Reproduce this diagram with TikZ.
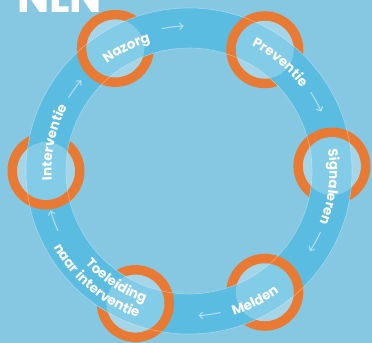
\documentclass[tikz,border=0pt]{standalone}
\usepackage{fontspec}
\setmainfont{Poppins}
\newfontfamily\lblfam{Poppins}[LetterSpace=5]
\newcommand{\lblfont}{\lblfam\bfseries\fontsize{13.5}{13.5}\selectfont}
\usetikzlibrary{decorations.text,arrows.meta}
\definecolor{bg}{RGB}{134,200,225}
\definecolor{band}{RGB}{90,188,225}
\definecolor{ora}{RGB}{233,122,51}
\tikzset{
  bandseg/.style={draw=band, line width=40bp},
  ringst/.style={circle, draw=ora, line width=9.5bp, minimum size=67.5bp, inner sep=0pt},
  disk/.style={fill=white, fill opacity=0.25},
  edgeline/.style={draw=white, draw opacity=0.35, line width=0.6bp},
  flow/.style={draw=white, draw opacity=0.5, line width=1.1bp, -{Straight Barb[length=3.5bp,width=7bp]}},
  lbl/.style={decorate, decoration={text along path, text color=white, text align=center}},
}
\begin{document}
\begin{tikzpicture}[x=1bp,y=1bp]
\clip (0,0) rectangle (372,343);
\useasboundingbox (0,0) rectangle (372,343);
\fill[bg] (0,0) rectangle (372,343);
\node[anchor=base west, inner sep=0pt, text=white, font=\bfseries\fontsize{43}{43}\selectfont] (title) at (17,331) {NLN};
\begin{scope}[shift={(189,172)}]
  % part of segment 6 that lies under Nazorg
  \draw[bandseg] (150:143bp) arc[start angle=150, end angle=115, radius=143bp];
  \node[ringst] (n1) at (121:143bp) {};
  \draw[bandseg] (121:143bp) arc[start angle=121, end angle=52, radius=143bp];
  \node[ringst] (n2) at (58:143bp) {};
  \draw[bandseg] (58:143bp) arc[start angle=58, end angle=-4, radius=143bp];
  \node[ringst] (n3) at (2:143bp) {};
  \draw[bandseg] (2:143bp) arc[start angle=2, end angle=-64, radius=143bp];
  \node[ringst] (n4) at (-58:143bp) {};
  \draw[bandseg] (-58:143bp) arc[start angle=-58, end angle=-118, radius=143bp];
  \node[ringst] (n5) at (-112:143bp) {};
  \draw[bandseg] (-112:143bp) arc[start angle=-112, end angle=-186, radius=143bp];
  \node[ringst] (n6) at (180:143bp) {};
  \draw[bandseg] (180:143bp) arc[start angle=180, end angle=149, radius=143bp];
  % light discs
  \foreach \n in {n1,n2,n3,n4,n5,n6} \fill[disk] (\n.center) circle (29bp);
  % band edges
  \draw[edgeline] (0,0) circle (163bp);
  \draw[edgeline] (0,0) circle (123bp);
  % flow arrows
  \draw[flow] (100.9:145bp) arc[start angle=100.9, end angle=92.1, radius=145bp];
  \draw[flow] (33:145bp) arc[start angle=33, end angle=24.2, radius=145bp];
  \draw[flow] (-24.8:145bp) arc[start angle=-24.8, end angle=-33.6, radius=145bp];
  \draw[flow] (-77.4:145bp) arc[start angle=-77.4, end angle=-86.2, radius=145bp];
  \draw[flow] (-155.3:144bp) arc[start angle=-155.3, end angle=-164.1, radius=144bp];
  \draw[flow] (148.7:141bp) arc[start angle=148.7, end angle=139.9, radius=141bp];
  % labels
  \path[lbl, decoration={text={|\lblfont|Nazorg}}] (157:135bp) arc[start angle=157, end angle=77, radius=135bp];
  \path[lbl, decoration={text={|\lblfont|Preventie}}] (100:140bp) arc[start angle=100, end angle=0, radius=140bp];
  \path[lbl, decoration={text={|\lblfont|Signaleren}}] (45:140.5bp) arc[start angle=45, end angle=-58, radius=140.5bp];
  \path[lbl, decoration={text={|\lblfont|Interventie}}] (-150:137.5bp) arc[start angle=-150, end angle=-234, radius=137.5bp];
  \path[lbl, decoration={text={|\lblfont|Melden}}] (-103:151bp) arc[start angle=-103, end angle=-23, radius=151bp];
  \path[lbl, decoration={text={|\lblfont|Toeleiding}}] (-170:139bp) arc[start angle=-170, end angle=-77, radius=139bp];
  \path[lbl, decoration={text={|\lblfont|naar interventie}}] (-180:155.5bp) arc[start angle=-180, end angle=-80, radius=155.5bp];
\end{scope}
\end{tikzpicture}
\end{document}
